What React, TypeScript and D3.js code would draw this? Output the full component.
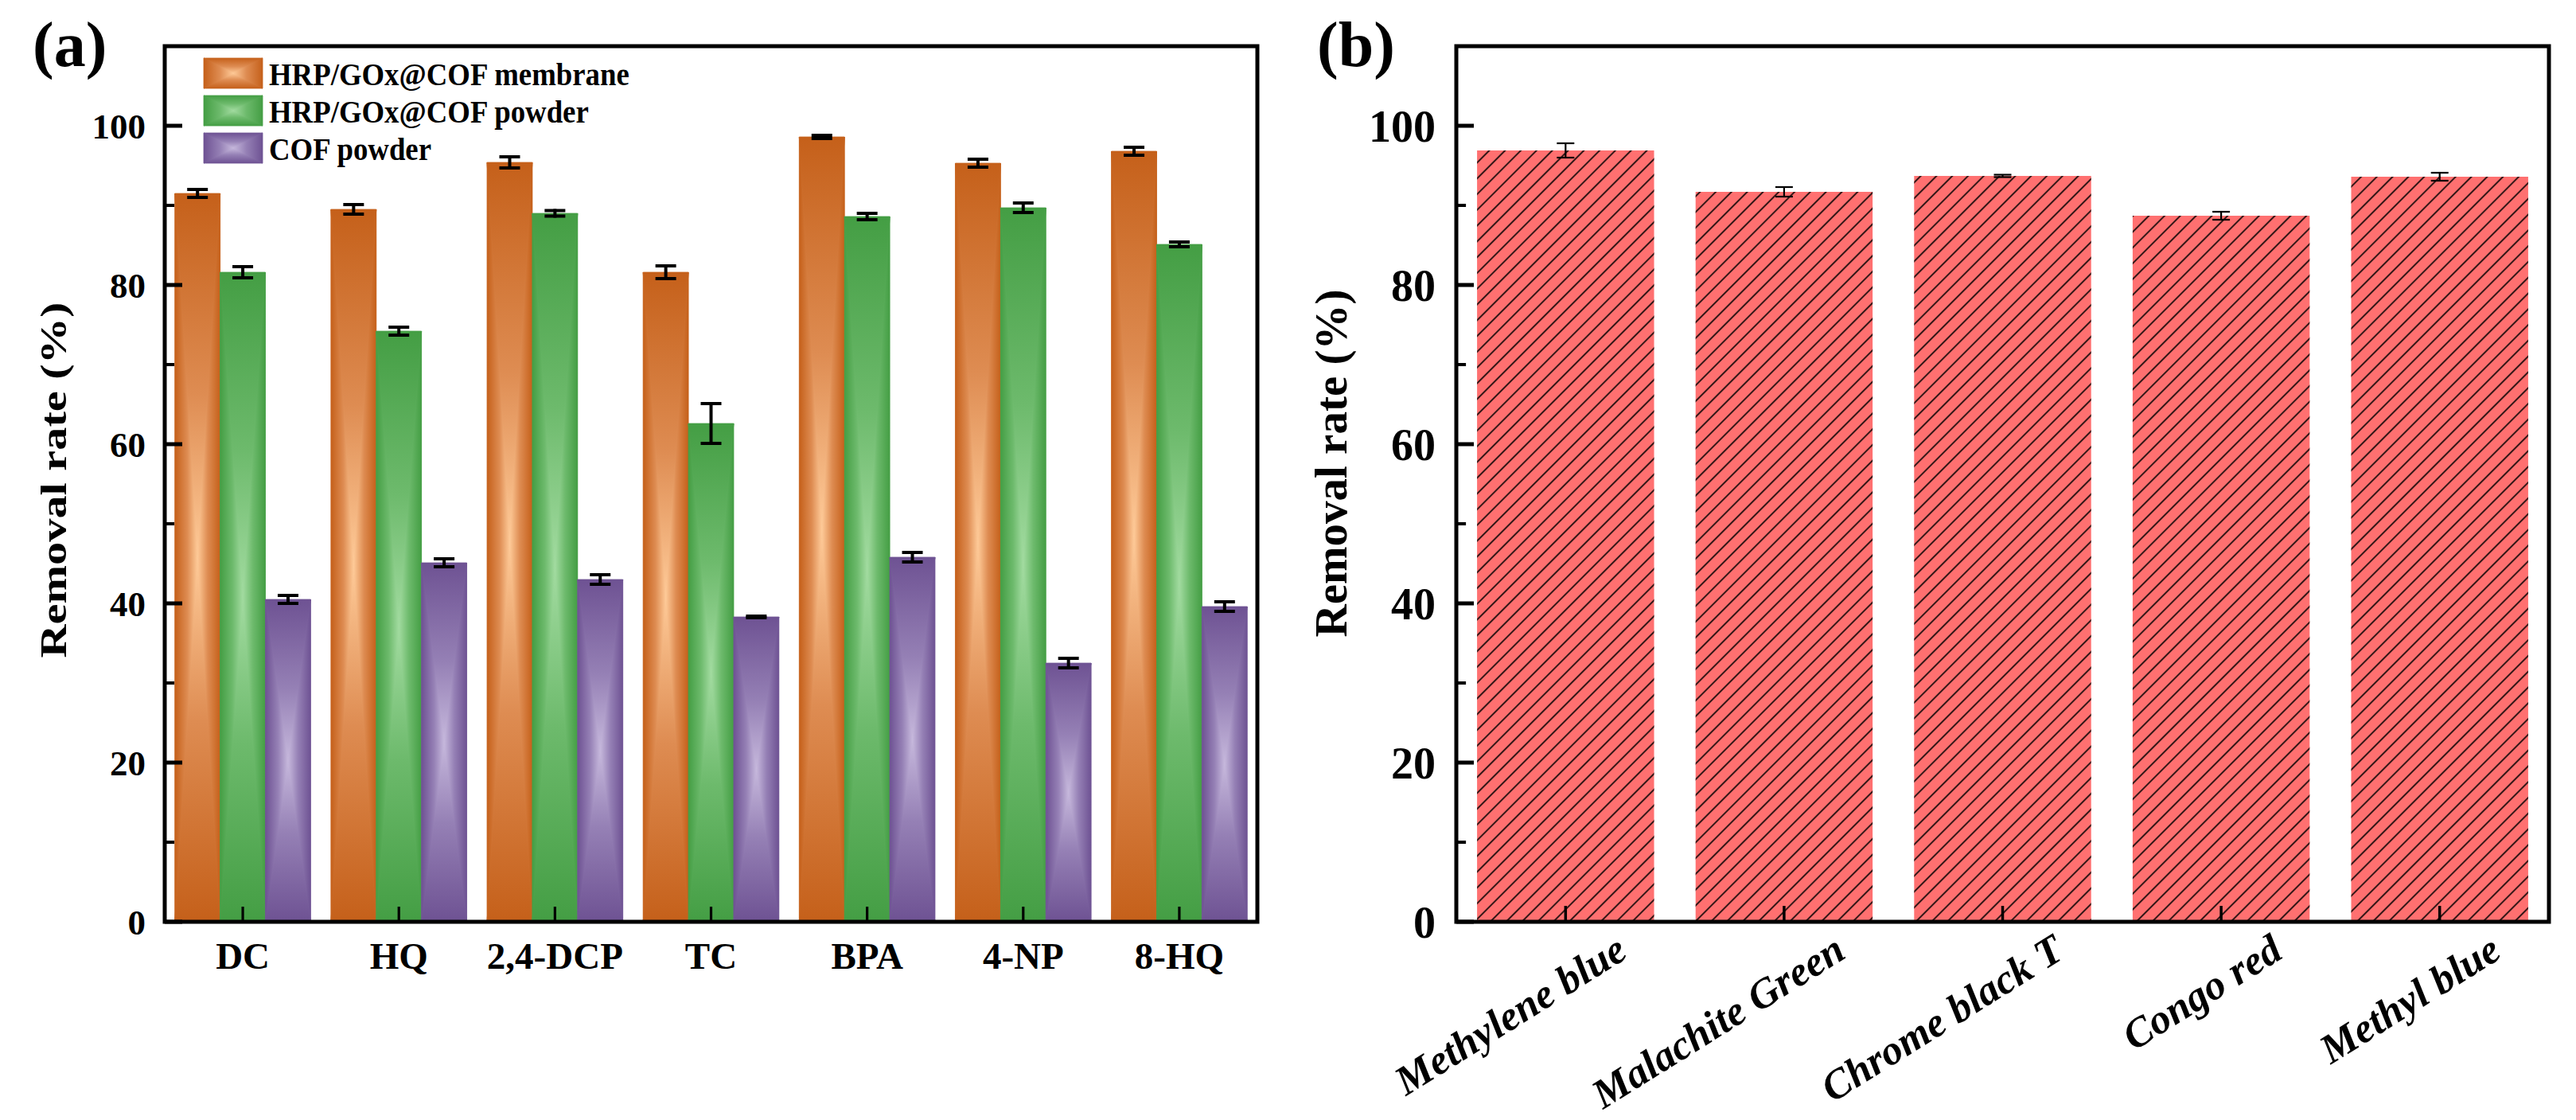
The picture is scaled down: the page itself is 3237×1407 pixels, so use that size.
import React, { useEffect, useRef } from 'react';
import * as d3 from 'd3';

// panel (a) data
const pollutants = ['DC', 'HQ', '2,4-DCP', 'TC', 'BPA', '4-NP', '8-HQ'];
const seriesNames = ['HRP/GOx@COF membrane', 'HRP/GOx@COF powder', 'COF powder'];
const membraneRate = [91.5, 89.5, 95.4, 81.6, 98.6, 95.3, 96.8];
const membraneErr = [0.5, 0.6, 0.7, 0.8, 0.2, 0.5, 0.5];
const powderRate = [81.6, 74.2, 89.0, 62.6, 88.6, 89.7, 85.1];
const powderErr = [0.7, 0.5, 0.35, 2.5, 0.4, 0.6, 0.3];
const cofRate = [40.5, 45.1, 43.0, 38.3, 45.8, 32.5, 39.6];
const cofErr = [0.5, 0.5, 0.6, 0.1, 0.6, 0.6, 0.6];

// panel (b) data
const dyes = ['Methylene blue', 'Malachite Green', 'Chrome black T', 'Congo red', 'Methyl blue'];
const dyeRate = [96.9, 91.7, 93.7, 88.7, 93.6];
const dyeErr = [0.9, 0.6, 0.15, 0.5, 0.5];

const yTicks = [0, 20, 40, 60, 80, 100];
const yMinorTicks = [10, 30, 50, 70, 90];

const darkColors = ['#C5601A', '#449E44', '#6E5293'];
const midColors = ['#DE8C52', '#6DBA6C', '#9580B5'];
const lightColors = ['#FECA98', '#A2DBA0', '#C6B8DC'];

const W = 3237;
const H = 1407;
const FONT = '"Liberation Serif", "Times New Roman", serif';

const App = () => {
  const svgRef = useRef<SVGSVGElement>(null);

  useEffect(() => {
    const svg = d3.select(svgRef.current);
    svg.selectAll('*').remove();

    const defs = svg.append('defs');

    // rectangular (concentric) gradient built from four linear gradients
    const dirs: Record<string, [number, number, number, number]> = {
      top: [0, 0, 0, 1],
      bottom: [0, 1, 0, 0],
      left: [0, 0, 1, 0],
      right: [1, 0, 0, 0],
    };
    darkColors.forEach((dark, i) => {
      Object.entries(dirs).forEach(([dir, [x1, y1, x2, y2]]) => {
        const lg = defs.append('linearGradient')
          .attr('id', `g${i}-${dir}`)
          .attr('x1', x1).attr('y1', y1).attr('x2', x2).attr('y2', y2);
        lg.append('stop').attr('offset', 0).attr('stop-color', dark);
        lg.append('stop').attr('offset', 0.55).attr('stop-color', midColors[i]);
        lg.append('stop').attr('offset', 1).attr('stop-color', lightColors[i]);
      });
    });

    const hatch = defs.append('pattern')
      .attr('id', 'hatch')
      .attr('patternUnits', 'userSpaceOnUse')
      .attr('width', 14).attr('height', 14)
      .attr('patternTransform', 'rotate(45)');
    hatch.append('line')
      .attr('x1', 1).attr('y1', 0).attr('x2', 1).attr('y2', 14)
      .attr('stroke', '#000').attr('stroke-width', 1.6);

    const gradBar = (g: any, x: number, y0: number, w: number, h: number, k: number) => {
      const x1 = x + w, y1 = y0 + h, cx = x + w / 2, cy = y0 + h / 2;
      g.append('rect').attr('x', x).attr('y', y0).attr('width', w).attr('height', h).attr('fill', midColors[k]);
      const tris: [string, number[][]][] = [
        ['top', [[x, y0], [x1, y0], [cx, cy]]],
        ['bottom', [[x, y1], [x1, y1], [cx, cy]]],
        ['left', [[x, y0], [x, y1], [cx, cy]]],
        ['right', [[x1, y0], [x1, y1], [cx, cy]]],
      ];
      tris.forEach(([dir, pts]) => {
        g.append('polygon')
          .attr('points', pts.map(p => p.join(',')).join(' '))
          .attr('fill', `url(#g${k}-${dir})`)
          .attr('stroke', `url(#g${k}-${dir})`)
          .attr('stroke-width', 0.8);
      });
    };

    const y = d3.scaleLinear().domain([0, 110]).range([1158, 58]);

    const drawYAxis = (left: number, right: number, labelSize: number, labelGap: number, majorLen: number) => {
      const g = svg.append('g');
      g.selectAll('.maj').data(yTicks).join('line')
        .attr('x1', left).attr('x2', left + majorLen)
        .attr('y1', d => y(d)).attr('y2', d => y(d))
        .attr('stroke', '#000').attr('stroke-width', 5);
      g.selectAll('.min').data(yMinorTicks).join('line')
        .attr('x1', left).attr('x2', left + majorLen * 0.55)
        .attr('y1', d => y(d)).attr('y2', d => y(d))
        .attr('stroke', '#000').attr('stroke-width', 4);
      g.selectAll('text').data(yTicks).join('text')
        .attr('x', left - labelGap)
        .attr('y', d => y(d))
        .attr('dy', '0.35em')
        .attr('text-anchor', 'end')
        .attr('font-family', FONT)
        .attr('font-weight', 'bold')
        .attr('font-size', labelSize)
        .text(d => d);
      // frame
      svg.append('rect')
        .attr('x', left).attr('y', y(110))
        .attr('width', right - left).attr('height', y(0) - y(110))
        .attr('fill', 'none').attr('stroke', '#000').attr('stroke-width', 5);
    };

    // ---------------- panel (a) ----------------
    const aLeft = 207, aRight = 1580;
    const x0 = d3.scaleBand().domain(pollutants).range([aLeft, aRight]).paddingInner(0.13).paddingOuter(0.065);
    const x1 = d3.scaleBand().domain(['0', '1', '2']).range([0, x0.bandwidth()]);
    const rates = [membraneRate, powderRate, cofRate];
    const errs = [membraneErr, powderErr, cofErr];

    const gA = svg.append('g');
    pollutants.forEach((p, i) => {
      rates.forEach((r, k) => {
        const bx = (x0(p) as number) + (x1(String(k)) as number);
        gradBar(gA, bx, y(r[i]), x1.bandwidth(), y(0) - y(r[i]), k);
      });
    });
    const gErrA = svg.append('g').attr('stroke', '#000').attr('stroke-width', 4);
    pollutants.forEach((p, i) => {
      rates.forEach((r, k) => {
        const cx = (x0(p) as number) + (x1(String(k)) as number) + x1.bandwidth() / 2;
        const hi = y(r[i] + errs[k][i]);
        const lo = y(r[i] - errs[k][i]);
        gErrA.append('line').attr('x1', cx).attr('x2', cx).attr('y1', hi - 2).attr('y2', lo + 2);
        gErrA.append('line').attr('x1', cx - 13).attr('x2', cx + 13).attr('y1', hi).attr('y2', hi);
        gErrA.append('line').attr('x1', cx - 13).attr('x2', cx + 13).attr('y1', lo).attr('y2', lo);
      });
    });
    svg.append('g').selectAll('line').data(pollutants).join('line')
      .attr('x1', d => (x0(d) as number) + x0.bandwidth() / 2)
      .attr('x2', d => (x0(d) as number) + x0.bandwidth() / 2)
      .attr('y1', y(0)).attr('y2', y(0) - 19)
      .attr('stroke', '#000').attr('stroke-width', 3.2);
    svg.append('g').selectAll('text').data(pollutants).join('text')
      .attr('x', d => (x0(d) as number) + x0.bandwidth() / 2)
      .attr('y', 1217)
      .attr('text-anchor', 'middle')
      .attr('font-family', FONT).attr('font-weight', 'bold').attr('font-size', 47)
      .text(d => d);
    drawYAxis(aLeft, aRight, 45, 24, 22);

    svg.append('text')
      .attr('transform', 'translate(83,603) rotate(-90)')
      .attr('text-anchor', 'middle')
      .attr('font-family', FONT).attr('font-weight', 'bold').attr('font-size', 46)
      .attr('textLength', 447).attr('lengthAdjust', 'spacingAndGlyphs')
      .text('Removal rate (%)');

    // legend
    const legend = svg.append('g');
    seriesNames.forEach((name, k) => {
      const top = 73 + k * 47;
      gradBar(legend, 256, top, 74, 38, k);
      legend.append('text')
        .attr('transform', `translate(338,${top + 34}) scale(0.92,1)`)
        .attr('font-family', FONT).attr('font-weight', 'bold').attr('font-size', 40)
        .text(name);
    });

    svg.append('text')
      .attr('x', 41).attr('y', 83)
      .attr('font-family', FONT).attr('font-weight', 'bold').attr('font-size', 80)
      .text('(a)');

    // ---------------- panel (b) ----------------
    const bLeft = 1830, bRight = 3203;
    const xb = d3.scaleBand().domain(dyes).range([bLeft, bRight]).paddingInner(0.19).paddingOuter(0.095);
    const gB = svg.append('g');
    gB.selectAll('rect.fill').data(dyes).join('rect')
      .attr('x', d => xb(d) as number)
      .attr('y', (d, i) => y(dyeRate[i]))
      .attr('width', xb.bandwidth())
      .attr('height', (d, i) => y(0) - y(dyeRate[i]))
      .attr('fill', '#FF7070');
    gB.selectAll('rect.hatch').data(dyes).join('rect')
      .attr('x', d => xb(d) as number)
      .attr('y', (d, i) => y(dyeRate[i]))
      .attr('width', xb.bandwidth())
      .attr('height', (d, i) => y(0) - y(dyeRate[i]))
      .attr('fill', 'url(#hatch)');
    const gErrB = svg.append('g').attr('stroke', '#000').attr('stroke-width', 2.2);
    dyes.forEach((d, i) => {
      const cx = (xb(d) as number) + xb.bandwidth() / 2;
      const hi = y(dyeRate[i] + dyeErr[i]);
      const lo = y(dyeRate[i] - dyeErr[i]);
      gErrB.append('line').attr('x1', cx).attr('x2', cx).attr('y1', hi).attr('y2', lo);
      gErrB.append('line').attr('x1', cx - 11).attr('x2', cx + 11).attr('y1', hi).attr('y2', hi);
      gErrB.append('line').attr('x1', cx - 11).attr('x2', cx + 11).attr('y1', lo).attr('y2', lo);
    });
    svg.append('g').selectAll('line').data(dyes).join('line')
      .attr('x1', d => (xb(d) as number) + xb.bandwidth() / 2)
      .attr('x2', d => (xb(d) as number) + xb.bandwidth() / 2)
      .attr('y1', y(0)).attr('y2', y(0) - 20)
      .attr('stroke', '#000').attr('stroke-width', 3.5);
    svg.append('g').selectAll('text').data(dyes).join('text')
      .attr('transform', d => `translate(${(xb(d) as number) + xb.bandwidth() / 2 + 80},1202) rotate(-32)`)
      .attr('text-anchor', 'end')
      .attr('font-family', FONT).attr('font-weight', 'bold').attr('font-style', 'italic').attr('font-size', 52)
      .text(d => d);
    drawYAxis(bLeft, bRight, 56, 26, 22);

    svg.append('text')
      .attr('transform', 'translate(1692,582) rotate(-90)')
      .attr('text-anchor', 'middle')
      .attr('font-family', FONT).attr('font-weight', 'bold').attr('font-size', 57)
      .text('Removal rate (%)');

    svg.append('text')
      .attr('x', 1655).attr('y', 83)
      .attr('font-family', FONT).attr('font-weight', 'bold').attr('font-size', 80)
      .text('(b)');
  }, []);

  return (
    <svg
      ref={svgRef}
      width={W}
      height={H}
      style={{ position: 'absolute', left: 0, top: 0, background: '#fff' }}
    />
  );
};

export default App;
